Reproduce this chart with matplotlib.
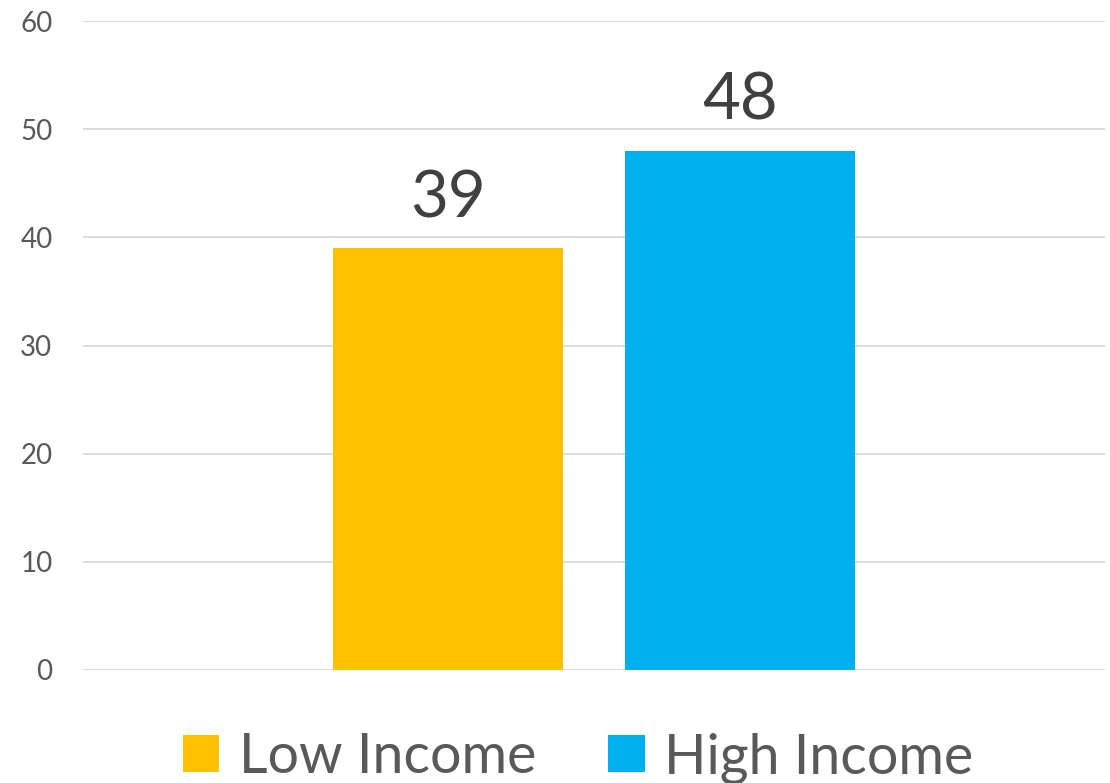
import matplotlib

matplotlib.use("Agg")

import matplotlib.pyplot as plt
from matplotlib.patches import Patch

categories = [""]
series_names = ["Low Income", "High Income"]
series_values = [[39], [48]]
series_colors = ["#FFC000", "#00B0F0"]
y_ticks = [0, 10, 20, 30, 40, 50, 60]

plt.rcParams["font.family"] = ["Lato", "DejaVu Sans"]

fig = plt.figure(figsize=(11.10, 7.83), dpi=100)
ax = fig.add_axes([83 / 1110, 1 - 670 / 783, 1022 / 1110, (670 - 21) / 783])

width = 0.225
step = 0.285
for i, (name, vals, color) in enumerate(zip(series_names, series_values, series_colors)):
    xs = [c + (i - 0.5) * step for c in range(len(categories))]
    bars = ax.bar(xs, vals, width=width, color=color, label=name, zorder=3)
    for b, v in zip(bars, vals):
        ax.text(b.get_x() + b.get_width() / 2, v + 2.85, str(v), ha="center", va="baseline",
                fontsize=47, color="#404040")

ax.set_xlim(-0.5, len(categories) - 0.5)
ax.set_ylim(0, 60)
ax.set_yticks(y_ticks)
ax.set_xticks([])
ax.tick_params(axis="y", length=0, pad=22, labelsize=20, labelcolor="#595959")
ax.grid(axis="y", color="#D9D9D9", linewidth=1.3, zorder=0)
for s in ax.spines.values():
    s.set_visible(False)

handles = [Patch(facecolor=c, edgecolor="none") for c in series_colors]
fig.legend(handles, series_names, loc="center", bbox_to_anchor=(0.521, 0.032), ncol=2,
           frameon=False, fontsize=40, handlelength=0.65, handleheight=0.65,
           handletextpad=0.35, columnspacing=1.3, labelcolor="#595959")

fig.savefig("out.png", dpi=100)
